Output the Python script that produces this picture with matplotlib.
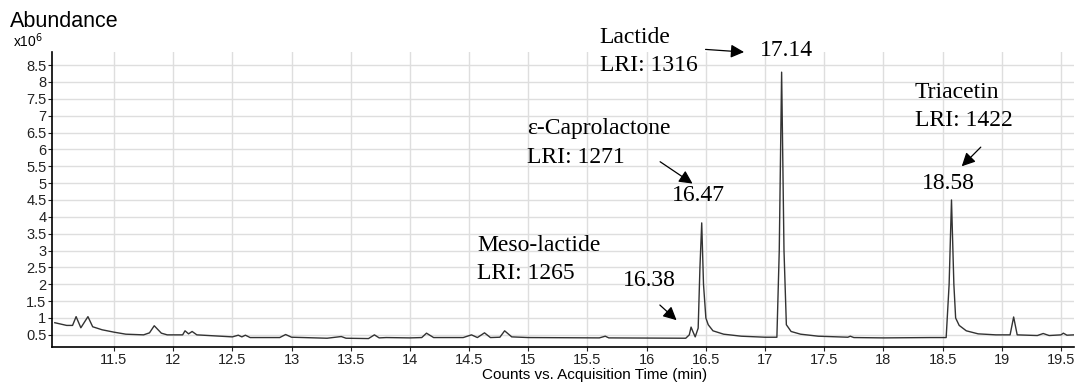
import matplotlib
matplotlib.use("Agg")
import matplotlib.pyplot as plt

# chromatogram trace (time in min, abundance x10^6)
time_min = [11.0, 11.1, 11.15, 11.18, 11.22, 11.28, 11.32, 11.4, 11.5, 11.6, 11.75, 11.8,
            11.84, 11.9, 11.95, 12.08, 12.1, 12.13, 12.16, 12.2, 12.4, 12.5, 12.55, 12.58,
            12.61, 12.65, 12.9, 12.95, 13.0, 13.3, 13.42, 13.46, 13.65, 13.7, 13.74, 13.8,
            14.0, 14.1, 14.14, 14.2, 14.45, 14.52, 14.57, 14.63, 14.68, 14.76, 14.8, 14.86,
            15.0, 15.6, 15.65, 15.68, 16.33, 16.36, 16.375, 16.39, 16.41, 16.435, 16.45,
            16.465, 16.48, 16.5, 16.52, 16.56, 16.65, 16.8, 17.0, 17.1, 17.12, 17.14, 17.16,
            17.18, 17.22, 17.3, 17.45, 17.7, 17.72, 17.75, 18.0, 18.4, 18.53, 18.555,
            18.575, 18.595, 18.61, 18.64, 18.7, 18.8, 18.95, 19.07, 19.1, 19.13, 19.3,
            19.35, 19.4, 19.5, 19.52, 19.55, 19.61]
abundance = [0.86, 0.78, 0.78, 1.04, 0.71, 1.04, 0.74, 0.65, 0.58, 0.52, 0.5, 0.56,
             0.77, 0.55, 0.5, 0.5, 0.62, 0.53, 0.6, 0.5, 0.46, 0.44, 0.49, 0.44,
             0.49, 0.42, 0.42, 0.51, 0.43, 0.4, 0.45, 0.4, 0.39, 0.5, 0.41, 0.42,
             0.41, 0.42, 0.55, 0.42, 0.42, 0.5, 0.42, 0.56, 0.42, 0.43, 0.62, 0.44,
             0.42, 0.41, 0.46, 0.41, 0.40, 0.5, 0.73, 0.6, 0.44, 0.7, 2.5,
             3.82, 2.0, 1.0, 0.8, 0.62, 0.52, 0.46, 0.43, 0.43, 3.0, 8.29, 3.0,
             0.8, 0.6, 0.52, 0.46, 0.43, 0.46, 0.42, 0.41, 0.42, 0.42, 2.0,
             4.5, 2.0, 1.0, 0.78, 0.62, 0.53, 0.5, 0.5, 1.03, 0.5, 0.48,
             0.54, 0.48, 0.5, 0.55, 0.49, 0.5]

x_ticks = [11.5, 12, 12.5, 13, 13.5, 14, 14.5, 15, 15.5, 16, 16.5, 17, 17.5, 18, 18.5, 19, 19.5]
y_ticks = [0.5, 1, 1.5, 2, 2.5, 3, 3.5, 4, 4.5, 5, 5.5, 6, 6.5, 7, 7.5, 8, 8.5]

plt.rcParams["font.family"] = ["Liberation Sans", "DejaVu Sans"]
serif = ["Liberation Serif", "DejaVu Serif"]

fig = plt.figure(figsize=(10.78, 3.83), dpi=100)
ax = fig.add_axes([0.0482, 0.094, 0.9481, 0.770])

ax.plot(time_min, abundance, color="#333333", lw=1.0)

ax.set_xlim(10.976, 19.61)
ax.set_ylim(0.14, 8.885)
ax.set_xticks(x_ticks)
ax.set_yticks(y_ticks)
ax.set_xticklabels([f"{v:g}" for v in x_ticks])
ax.set_yticklabels([f"{v:g}" for v in y_ticks])
ax.tick_params(axis="x", labelsize=10.5, length=3, width=0.8, pad=1.5, colors="#222222")
ax.tick_params(axis="y", labelsize=10.5, length=3, width=0.8, pad=1, colors="#222222")
ax.grid(True, color="#dedede", lw=1)
ax.set_axisbelow(True)
for s in ["top", "right"]:
    ax.spines[s].set_visible(False)
for s in ["left", "bottom"]:
    ax.spines[s].set_linewidth(1.2)

ax.set_xlabel("Counts vs. Acquisition Time (min)", fontsize=11, labelpad=0)
ax.xaxis.set_label_coords(0.531, -0.071)
fig.text(0.009, 0.945, "Abundance", fontsize=15.5, ha="left", va="center")
fig.text(0.012, 0.893, r"x10$^6$", fontsize=10, ha="left", va="center")

fs = 17
txt = dict(fontsize=fs, family=serif, ha="left", va="center", clip_on=False)
arrow = dict(arrowstyle="-|>", color="black", lw=0.9, mutation_scale=20)

ax.text(15.604, 9.33, "Lactide", **txt)
ax.text(15.604, 8.50, "LRI: 1316", **txt)
ax.text(16.956, 8.94, "17.14", **txt)
ax.annotate("", xy=(16.846, 8.88), xytext=(16.474, 8.97), arrowprops=arrow, annotation_clip=False)

ax.text(14.988, 6.63, "ε-Caprolactone", **txt)
ax.text(14.988, 5.77, "LRI: 1271", **txt)
ax.text(16.212, 4.64, "16.47", **txt)
ax.annotate("", xy=(16.407, 4.94), xytext=(16.094, 5.68), arrowprops=arrow)

ax.text(18.265, 7.70, "Triacetin", **txt)
ax.text(18.265, 6.87, "LRI: 1422", **txt)
ax.text(18.324, 5.00, "18.58", **txt)
ax.annotate("", xy=(18.645, 5.44), xytext=(18.839, 6.125), arrowprops=arrow)

ax.text(14.566, 3.16, "Meso-lactide", **txt)
ax.text(14.566, 2.33, "LRI: 1265", **txt)
ax.text(15.799, 2.125, "16.38", **txt)
ax.annotate("", xy=(16.27, 0.88), xytext=(16.094, 1.44), arrowprops=arrow)

fig.savefig("out.png", dpi=100)
